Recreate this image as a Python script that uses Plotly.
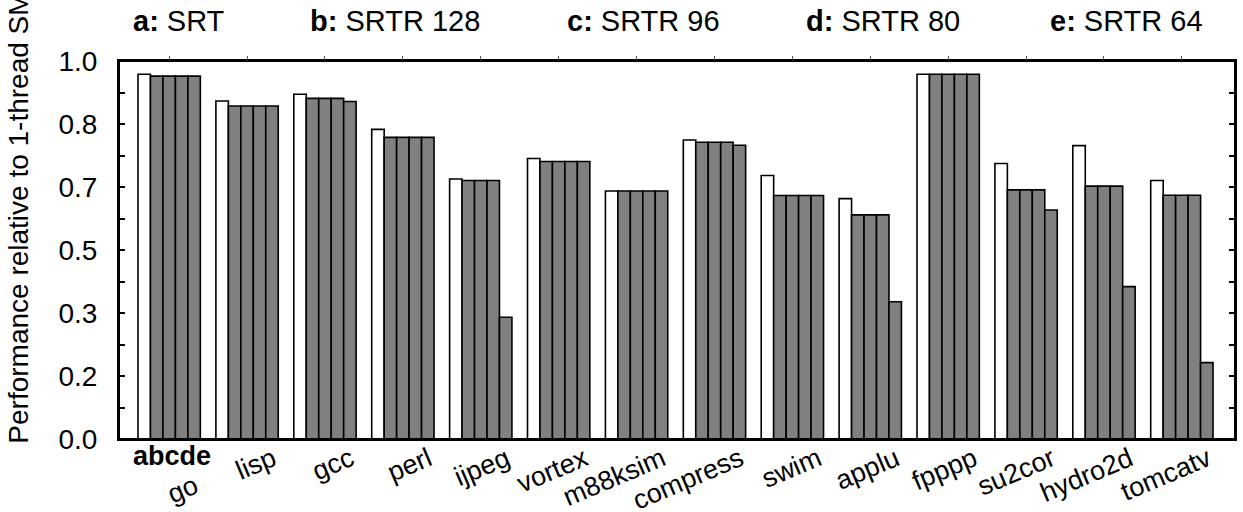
import plotly.graph_objects as go

benchmarks = ["go", "lisp", "gcc", "perl", "ijpeg", "vortex", "m88ksim",
              "compress", "swim", "applu", "fpppp", "su2cor", "hydro2d", "tomcatv"]
series_letters = ["a", "b", "c", "d", "e"]
series_names = ["SRT", "SRTR 128", "SRTR 96", "SRTR 80", "SRTR 64"]

srt      = [0.965, 0.894, 0.912, 0.819, 0.688, 0.742, 0.656, 0.791, 0.697, 0.636, 0.965, 0.729, 0.776, 0.684]
srtr_128 = [0.960, 0.881, 0.901, 0.798, 0.684, 0.734, 0.656, 0.785, 0.644, 0.593, 0.965, 0.659, 0.669, 0.645]
srtr_96  = [0.960, 0.881, 0.901, 0.798, 0.684, 0.734, 0.656, 0.785, 0.644, 0.593, 0.965, 0.659, 0.669, 0.645]
srtr_80  = [0.960, 0.881, 0.901, 0.798, 0.684, 0.734, 0.656, 0.785, 0.644, 0.593, 0.965, 0.659, 0.669, 0.645]
srtr_64  = [0.960, 0.881, 0.893, 0.798, 0.322, 0.734, 0.656, 0.777, 0.644, 0.363, 0.965, 0.606, 0.403, 0.202]
series_values = [srt, srtr_128, srtr_96, srtr_80, srtr_64]
series_fill = ["#ffffff", "#808080", "#808080", "#808080", "#808080"]

y_tick_vals = [0, 1/6, 2/6, 3/6, 4/6, 5/6, 1]
y_tick_text = ["0.0", "0.2", "0.3", "0.5", "0.7", "0.8", "1.0"]

FONT = "Arial, Liberation Sans, sans-serif"
xpos = list(range(len(benchmarks)))
label_pos = [i + 0.33 for i in xpos]

W, H = 1243, 512
PL, PR, PT, PB = 119, 1235, 60.7, 439.3  # plot box in figure px

fig = go.Figure()
for name, vals, fill in zip(series_names, series_values, series_fill):
    fig.add_trace(go.Bar(
        x=xpos, y=vals, name=name,
        marker=dict(color=fill, line=dict(color="#000000", width=1.6)),
        showlegend=False,
    ))

# invisible helpers for the extra axes (top ticks, first label)
fig.add_trace(go.Scatter(x=xpos, y=[None] * len(xpos), xaxis="x2", showlegend=False,
                         hoverinfo="skip"))
fig.add_trace(go.Scatter(x=xpos, y=[None] * len(xpos), xaxis="x3", showlegend=False,
                         hoverinfo="skip"))

xr = [-0.644, 13.682]
fig.update_layout(
    template="none",
    width=W, height=H,
    margin=dict(l=PL, r=W - PR, t=PT, b=H - PB, autoexpand=False),
    paper_bgcolor="white", plot_bgcolor="white",
    barmode="group", bargap=0.2, bargroupgap=0,
    font=dict(family=FONT, color="#000000"),
    xaxis=dict(range=xr, showgrid=False, zeroline=False, automargin=False,
               tickvals=label_pos[1:], ticktext=benchmarks[1:], tickangle=-23,
               ticks="", ticklabelstandoff=-8,
               tickfont=dict(size=27, family=FONT, color="#000000"),
               showline=True, linecolor="#000000", linewidth=2, mirror=True),
    xaxis2=dict(range=xr, overlaying="x", side="top", showgrid=False, zeroline=False,
                automargin=False, showticklabels=False, tickvals=xpos, ticks="outside",
                ticklen=4, tickwidth=1, tickcolor="#555555", showline=False),
    xaxis3=dict(range=xr, overlaying="x", side="bottom", showgrid=False, zeroline=False,
                automargin=False, tickvals=label_pos[:1], ticktext=benchmarks[:1],
                tickangle=-23, ticks="", ticklabelstandoff=26,
                tickfont=dict(size=27, family=FONT, color="#000000"), showline=False),
    yaxis=dict(range=[0, 1], showgrid=False, zeroline=False, automargin=False,
               tickvals=y_tick_vals, ticktext=y_tick_text,
               ticks="inside", ticklen=6, tickwidth=1.5, tickcolor="#000000",
               minor=dict(dtick=1/12, tick0=0, ticks="inside", ticklen=6,
                          tickwidth=1.5, tickcolor="#000000"),
               tickfont=dict(size=28, family=FONT, color="#000000"), ticklabelstandoff=14,
               showline=True, linecolor="#000000", linewidth=2, mirror="ticks"),
)

# plot frame (explicit so the right edge is always drawn)
fig.add_shape(type="rect", xref="paper", yref="paper", x0=0, x1=1, y0=0, y1=1,
              line=dict(color="#000000", width=2), fillcolor="rgba(0,0,0,0)", layer="above")

def px_to_paper_x(px):
    return (px - PL) / (PR - PL)

def px_to_paper_y(py):
    return (PB - py) / (PB - PT)

# series titles along the top
title_px = [131, 308, 565, 804, 1048]
for letter, name, px in zip(series_letters, series_names, title_px):
    fig.add_annotation(text=f"<b>{letter}:</b> {name}", xref="paper", yref="paper",
                       x=px_to_paper_x(px), y=px_to_paper_y(21), xanchor="left",
                       yanchor="middle", showarrow=False,
                       font=dict(size=29, family=FONT, color="#000000"))

# "abcde" key under first group
fig.add_annotation(text="<b>" + "".join(series_letters) + "</b>", xref="x", yref="paper",
                   x=0.03, y=px_to_paper_y(456), xanchor="center", yanchor="middle",
                   showarrow=False, font=dict(size=27, family=FONT, color="#000000"))

# y-axis title
fig.add_annotation(text="Performance relative to 1-thread SMT", xref="paper", yref="paper",
                   x=px_to_paper_x(19), y=px_to_paper_y(446), xanchor="center",
                   yanchor="bottom", textangle=-90, showarrow=False,
                   font=dict(size=28, family=FONT, color="#000000"))

fig.write_html(
    "out.html",
    config={"displayModeBar": False},
    post_script=("document.body.style.margin='0';"
                 "document.body.style.overflow='hidden';"
                 "document.documentElement.style.overflow='hidden';"),
)
